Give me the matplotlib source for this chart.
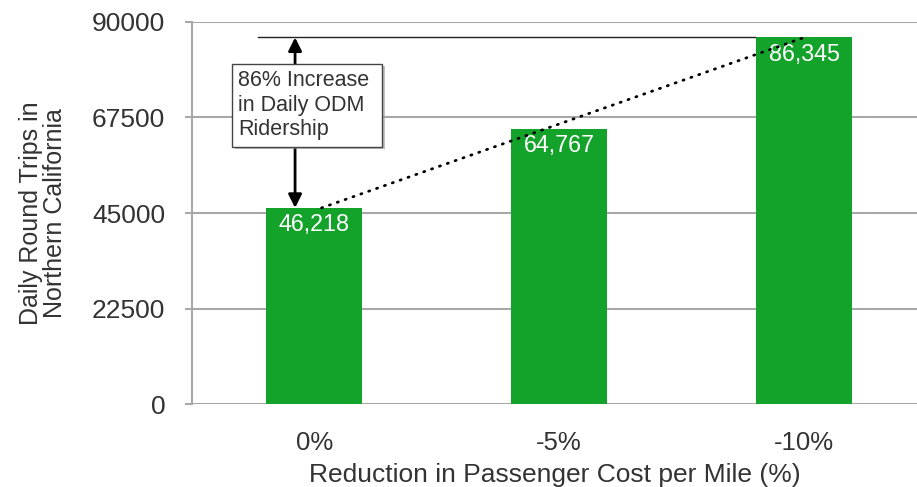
import matplotlib
matplotlib.use('Agg')
import matplotlib.pyplot as plt
import matplotlib.patheffects as pe

plt.rcParams['font.family'] = ['Liberation Sans', 'DejaVu Sans']

categories = ['0%', '-5%', '-10%']
trips = [46218, 64767, 86345]
yticks = [0, 22500, 45000, 67500, 90000]
note = '86% Increase \nin Daily ODM\nRidership'

green = '#13a32b'
grid_c = '#a8a8a8'
text_c = '#333333'

fig = plt.figure(figsize=(9.17, 4.87), dpi=100)
ax = fig.add_axes([0.209, 0.170, 0.791, 0.785])

x = list(range(len(categories)))
ax.bar(x, trips, width=0.39, color=green, zorder=2)

for xi, v in zip(x, trips):
    ax.text(xi, v - 1200, f'{v:,}', ha='center', va='top', color='white',
            fontsize=16.8, zorder=4)

# dotted trend between first and last bar
ax.plot([x[0] + 0.03, x[-1]], [trips[0], trips[-1]], color='black', lw=2,
        linestyle=(0, (0.4, 2.6)), dash_capstyle='round', zorder=5)

# reference line at top value
ax.plot([x[0] - 0.23, x[-1] - 0.2], [trips[-1], trips[-1]], color='#222222',
        lw=1, zorder=3)

# double arrow showing the increase
ax.annotate('', xy=(x[0] - 0.078, trips[-1]), xytext=(x[0] - 0.078, trips[0]),
            arrowprops=dict(arrowstyle='<|-|>', color='black', lw=2,
                            mutation_scale=20, shrinkA=0, shrinkB=0),
            zorder=5)
t = ax.text(-0.31, 70400, note, ha='left', va='center', fontsize=15.5,
            color=text_c, linespacing=1.22, zorder=6,
            bbox=dict(boxstyle='square,pad=0.3', fc='white', ec='#444444', lw=1))
t.get_bbox_patch().set_path_effects([
    pe.SimplePatchShadow(offset=(2, -2), shadow_rgbFace='#999999', alpha=0.6),
    pe.Normal()])

ax.set_xlim(-0.5, 2.46)
ax.set_ylim(0, 90000)
ax.set_yticks(yticks)
ax.set_yticklabels([str(v) for v in yticks])
ax.set_xticks(x)
ax.set_xticklabels(categories)

ax.grid(axis='y', color=grid_c, lw=1.5, zorder=0)
ax.set_axisbelow(True)
for s in ['top', 'right', 'bottom']:
    ax.spines[s].set_visible(False)
ax.spines['left'].set_color(grid_c)
ax.spines['left'].set_linewidth(1.5)

ax.tick_params(axis='y', colors=grid_c, length=5, width=1.5, pad=14,
               labelsize=19, labelcolor=text_c)
ax.tick_params(axis='x', length=0, pad=19, labelsize=18.5, labelcolor=text_c)

ax.set_xlabel('Reduction in Passenger Cost per Mile (%)', fontsize=19,
              color=text_c, labelpad=6)
ax.set_ylabel('Daily Round Trips in\nNorthern California', fontsize=18,
              color=text_c, linespacing=1.0)
ax.yaxis.set_label_coords(-0.172, 0.5)

fig.savefig('out.png', dpi=100)
